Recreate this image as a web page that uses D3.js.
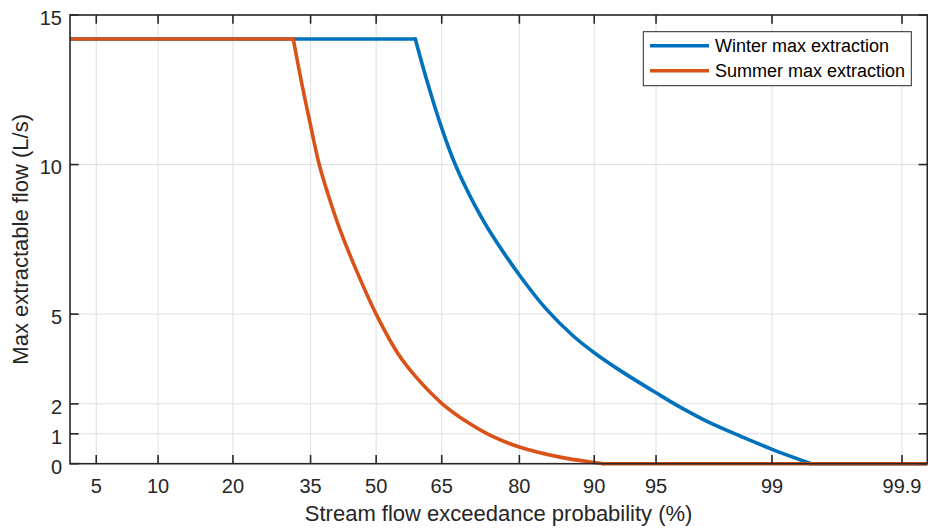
<!DOCTYPE html>
<html>
<head>
<meta charset="utf-8">
<script src="https://cdn.jsdelivr.net/npm/d3@7"></script>
<style>
  html, body { margin: 0; padding: 0; background: #fff; }
  svg { display: block; font-family: "Liberation Sans", Arial, Helvetica, sans-serif; }
</style>
</head>
<body>
<svg id="chart" width="928" height="528"></svg>
<script>
// Exceedance probability (%) tick marks on the normal-probability axis
const probabilityTicks = [5, 10, 20, 35, 50, 65, 80, 90, 95, 99, 99.9];
const flowTicks = [0, 1, 2, 5, 10, 15];
const probabilityLimits = [3.6, 99.94];
const flowLimits = [0, 15];

// Winter max extraction (L/s) versus exceedance probability (%)
const winterProbability = [3.6, 59.1, 61.7, 65.0, 67.9, 71.0, 74.6, 80.0, 84.2, 87.7, 90.0, 92.4, 95.0, 96.3, 97.5, 98.4, 99.0, 99.47, 99.94];
const winterFlow        = [14.2, 14.2, 12.82, 11.22, 10.0, 8.93, 7.82, 6.31, 5.15, 4.26, 3.71, 3.12, 2.37, 1.89, 1.37, 0.91, 0.48, 0.0, 0.0];

// Summer max extraction (L/s) versus exceedance probability (%)
const summerProbability = [3.6, 31.3, 33.1, 34.9, 36.9, 38.9, 41.6, 45.5, 50.0, 55.2, 59.5, 65.0, 70.3, 75.2, 80.0, 86.0, 90.0, 90.9, 99.94];
const summerFlow        = [14.2, 14.2, 12.71, 11.38, 10.0, 8.99, 7.82, 6.42, 5.0, 3.66, 2.86, 2.02, 1.40, 0.92, 0.56, 0.22, 0.04, 0.0, 0.0];

const seriesNames = ["Winter max extraction", "Summer max extraction"];
const seriesColors = ["#0072BD", "#D95319"];

// Inverse standard normal CDF (Acklam's rational approximation)
function probit(p) {
  const a = [-3.969683028665376e+01, 2.209460984245205e+02, -2.759285104469687e+02,
             1.383577518672690e+02, -3.066479806614716e+01, 2.506628277459239e+00];
  const b = [-5.447609879822406e+01, 1.615858368580409e+02, -1.556989798598866e+02,
             6.680131188771972e+01, -1.328068155288572e+01];
  const c = [-7.784894002430293e-03, -3.223964580411365e-01, -2.400758277161838e+00,
             -2.549732539343734e+00, 4.374664141464968e+00, 2.938163982698783e+00];
  const d = [7.784695709041462e-03, 3.224671290700398e-01, 2.445134137142996e+00,
             3.754408661907416e+00];
  const plow = 0.02425;
  let q, r;
  if (p < plow) {
    q = Math.sqrt(-2 * Math.log(p));
    return (((((c[0]*q + c[1])*q + c[2])*q + c[3])*q + c[4])*q + c[5]) /
           ((((d[0]*q + d[1])*q + d[2])*q + d[3])*q + 1);
  } else if (p <= 1 - plow) {
    q = p - 0.5; r = q * q;
    return (((((a[0]*r + a[1])*r + a[2])*r + a[3])*r + a[4])*r + a[5]) * q /
           (((((b[0]*r + b[1])*r + b[2])*r + b[3])*r + b[4])*r + 1);
  } else {
    q = Math.sqrt(-2 * Math.log(1 - p));
    return -(((((c[0]*q + c[1])*q + c[2])*q + c[3])*q + c[4])*q + c[5]) /
            ((((d[0]*q + d[1])*q + d[2])*q + d[3])*q + 1);
  }
}

const margin = { left: 70, right: 927.3, top: 15, bottom: 463.7 };
const ink = "#262626";
const tickLen = 8.7;

// Normal-probability x scale: linear in z = probit(p)
const zScale = d3.scaleLinear()
  .domain(probabilityLimits.map(p => probit(p / 100)))
  .range([margin.left, margin.right]);
const x = p => zScale(probit(p / 100));

const y = d3.scaleLinear().domain(flowLimits).range([margin.bottom, margin.top]);

const svg = d3.select("#chart");

// Grid
const grid = svg.append("g").attr("stroke", "#dfdfdf").attr("stroke-width", 1);
grid.selectAll("line.vx").data(probabilityTicks).join("line")
  .attr("x1", d => x(d)).attr("x2", d => x(d))
  .attr("y1", margin.top).attr("y2", margin.bottom);
grid.selectAll("line.hy").data(flowTicks.filter(v => v > 0 && v < 15)).join("line")
  .attr("x1", margin.left).attr("x2", margin.right)
  .attr("y1", d => y(d)).attr("y2", d => y(d));

// Data lines
svg.append("defs").append("clipPath").attr("id", "plotClip")
  .append("rect")
  .attr("x", margin.left).attr("y", margin.top - 3)
  .attr("width", margin.right - margin.left).attr("height", margin.bottom - margin.top + 6);

const series = [
  { prob: winterProbability, flow: winterFlow },
  { prob: summerProbability, flow: summerFlow }
];

const straightLine = d3.line().x(d => x(d[0])).y(d => y(d[1]));
const smoothLine = d3.line().x(d => x(d[0])).y(d => y(d[1])).curve(d3.curveCatmullRom.alpha(0.5));

const lines = svg.append("g").attr("clip-path", "url(#plotClip)");
series.forEach((s, i) => {
  const pts = s.prob.map((p, k) => [p, s.flow[k]]);
  const zeroAt = s.flow.indexOf(0);
  // plateau at the cap, recession curve, then zero once flow runs out
  const g = lines.append("g")
    .attr("fill", "none")
    .attr("stroke", seriesColors[i])
    .attr("stroke-width", 3.6)
    .attr("stroke-linejoin", "round")
    .attr("stroke-linecap", "round");
  g.append("path").attr("d", straightLine(pts.slice(0, 2)));
  g.append("path").attr("d", smoothLine(pts.slice(1, zeroAt + 1)));
  g.append("path").attr("d", straightLine(pts.slice(zeroAt)));
});

// Axes box and ticks
const axes = svg.append("g").attr("stroke", ink).attr("stroke-width", 1.6).attr("fill", "none");
axes.append("rect")
  .attr("x", margin.left).attr("y", margin.top)
  .attr("width", margin.right - margin.left).attr("height", margin.bottom - margin.top);

probabilityTicks.forEach(p => {
  axes.append("line").attr("x1", x(p)).attr("x2", x(p))
    .attr("y1", margin.bottom).attr("y2", margin.bottom - tickLen);
  axes.append("line").attr("x1", x(p)).attr("x2", x(p))
    .attr("y1", margin.top).attr("y2", margin.top + tickLen);
});
flowTicks.forEach(v => {
  axes.append("line").attr("x1", margin.left).attr("x2", margin.left + tickLen)
    .attr("y1", y(v)).attr("y2", y(v));
  axes.append("line").attr("x1", margin.right).attr("x2", margin.right - tickLen)
    .attr("y1", y(v)).attr("y2", y(v));
});

// Tick labels
svg.append("g").selectAll("text").data(probabilityTicks).join("text")
  .attr("x", d => x(d)).attr("y", 493)
  .attr("text-anchor", "middle")
  .attr("font-size", 20).attr("fill", ink)
  .text(d => d);

svg.append("g").selectAll("text").data(flowTicks).join("text")
  .attr("x", 62).attr("y", d => y(d) + 9.8)
  .attr("text-anchor", "end")
  .attr("font-size", 20).attr("fill", ink)
  .text(d => d);

// Axis titles
svg.append("text")
  .attr("x", (margin.left + margin.right) / 2).attr("y", 521)
  .attr("text-anchor", "middle").attr("font-size", 22).attr("fill", ink)
  .text("Stream flow exceedance probability (%)");

svg.append("text")
  .attr("transform", `translate(27.5, ${(margin.top + margin.bottom) / 2}) rotate(-90)`)
  .attr("text-anchor", "middle").attr("font-size", 22).attr("fill", ink)
  .text("Max extractable flow (L/s)");

// Legend
const legend = svg.append("g");
legend.append("rect")
  .attr("x", 643.3).attr("y", 31.7).attr("width", 268).attr("height", 54)
  .attr("fill", "#fff").attr("stroke", ink).attr("stroke-width", 1);
seriesNames.forEach((name, i) => {
  const cy = 45.7 + i * 25;
  legend.append("line")
    .attr("x1", 650).attr("x2", 709).attr("y1", cy).attr("y2", cy)
    .attr("stroke", seriesColors[i]).attr("stroke-width", 3.6);
  legend.append("text")
    .attr("x", 715).attr("y", cy + 6.4)
    .attr("font-size", 18).attr("fill", "#000")
    .text(name);
});
</script>
</body>
</html>
